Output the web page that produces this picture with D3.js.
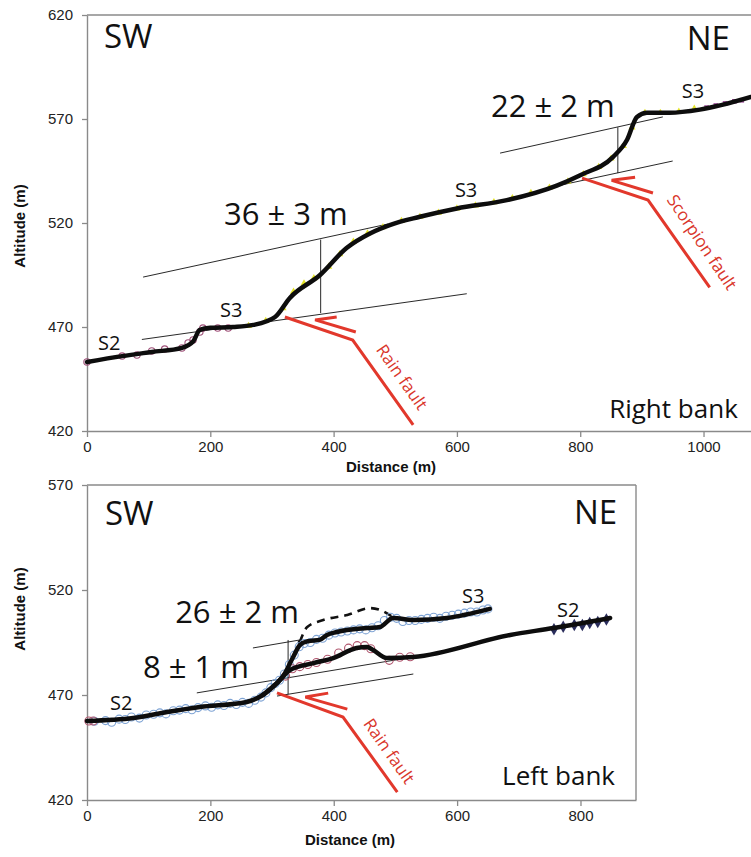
<!DOCTYPE html>
<html>
<head>
<meta charset="utf-8">
<script src="https://cdn.jsdelivr.net/npm/d3@7"></script>
<style>
  body { margin: 0; background: #fff; }
  .tick text { font-family: "Liberation Sans", Arial, sans-serif; font-size: 15px; fill: #222; }
  .axis-title { font-family: "Liberation Sans", Arial, sans-serif; font-size: 15px; font-weight: bold; fill: #111; }
  .big { font-family: "Open Sans", sans-serif; fill: #111; }
  .fault-label { font-family: "Open Sans", sans-serif; font-size: 17px; fill: #d9362b; }
</style>
</head>
<body>
<svg id="chart" width="751" height="857"></svg>
<script>
// ---------- Right bank (top panel) ----------
const rightXTicks = [0, 200, 400, 600, 800, 1000];
const rightYTicks = [420, 470, 520, 570, 620];

// smoothed profile
const rightProfileDist = [0, 57, 105, 154, 172, 183, 200, 237, 270, 305, 329, 378, 421, 459, 491, 540, 600, 681, 762, 800, 853, 876, 892, 908, 945, 994, 1077];
const rightProfileAlt  = [453.2, 456, 458, 460, 463, 468.6, 469.6, 470, 471, 474.8, 484, 495, 508, 515, 519, 523, 527, 531, 538, 543, 551.7, 560, 571, 573, 573, 574.5, 580.6];

// measured points
const rightCircleDist = [0, 57, 81, 105, 126, 154, 164, 172, 183, 188, 212, 229];
const rightCircleAlt  = [453.2, 456, 456.5, 458.5, 459.4, 459.9, 462.3, 463.8, 467.6, 469.5, 469.5, 469.5];
const rightYellowDist = [262, 290, 318, 335, 352, 368, 392, 410, 432, 455, 480, 510, 540, 570, 600, 630, 660, 690, 720, 750, 780, 805, 830, 850, 870, 884, 905, 930, 960, 985];
const rightYellowAlt  = [470.5, 473, 479, 487, 491, 493.5, 499, 505, 511, 515, 518, 521, 523, 525, 527, 528.5, 530, 532, 534.5, 537, 540, 543.5, 547, 551, 557, 566, 573, 573, 573.5, 575];
const rightSquareDist = [1005, 1020, 1035, 1050, 1062];
const rightSquareAlt  = [575.5, 576.5, 577.5, 578.5, 579];

// offset construction lines [dist, alt]
const rightGuides = [
  [[91, 494], [488, 519.5]],
  [[89, 464], [616, 486]],
  [[379, 476.7], [379, 512]],
  [[670, 553.6], [934, 571]],
  [[762, 537.8], [950, 549.8]],
  [[861, 544], [861, 566]]
];
const rightFaults = [
  [[321, 474.8], [431, 463.7], [529, 423]],
  [[405, 474.8], [370, 473.4], [436, 467.6]],
  [[803, 541.6], [910, 531], [1010, 489]],
  [[889, 542], [851, 540.5], [918, 534.4]]
];
const rightLabels = [
  {text: "SW", d: 27.6, a: 604.1, size: 33, anchor: "start"},
  {text: "NE", d: 1042.7, a: 603.2, size: 33, anchor: "end"},
  {text: "36 \u00b1 3 m", d: 322.7, a: 519, size: 31, anchor: "middle"},
  {text: "22 \u00b1 2 m", d: 755.6, a: 571, size: 31, anchor: "middle"},
  {text: "S2", d: 17.8, a: 458.9, size: 20, anchor: "start"},
  {text: "S3", d: 215.7, a: 474.8, size: 20, anchor: "start"},
  {text: "S3", d: 596.7, a: 532.5, size: 20, anchor: "start"},
  {text: "S3", d: 964.8, a: 580.1, size: 20, anchor: "start"},
  {text: "Right bank", d: 1055.6, a: 426.3, size: 26, anchor: "end"}
];
const rightFaultLabels = [
  {text: "Rain fault", d: 509, a: 445.5, angle: 55},
  {text: "Scorpion fault", d: 995.6, a: 510.4, angle: 56}
];

// ---------- Left bank (bottom panel) ----------
const leftXTicks = [0, 200, 400, 600, 800];
const leftYTicks = [420, 470, 520, 570];

const leftLowerDist = [0, 75, 130, 183, 259, 285, 308, 329, 367, 399, 437, 454, 464, 486, 529, 686, 756, 848];
const leftLowerAlt  = [457.6, 459, 461.9, 464.3, 466.7, 470, 475.7, 481.9, 485.2, 487.6, 492.4, 492.9, 491.4, 487.6, 488.1, 498.6, 501.9, 506.7];
const leftUpperDist = [285, 308, 318, 334, 345, 358, 378, 389, 405, 454, 475, 496, 529, 584, 653];
const leftUpperAlt  = [470, 475.7, 479, 488, 493.8, 495.6, 496.4, 498.6, 500, 501.9, 502.4, 506.7, 505.7, 506.7, 511];

const leftBlueDist = [12, 30, 40, 52, 62, 72, 85, 96, 108, 118, 128, 140, 150, 160, 170, 180, 192, 202, 212, 222, 232, 242, 252, 262, 272, 282, 290, 298, 305,
                      312, 320, 328, 336, 344, 352, 362, 372, 382, 392, 402, 412, 422, 432, 442, 452, 462, 472, 482, 492, 502, 512, 522, 532, 542, 552, 562, 572, 582, 592, 602, 612, 622, 632, 642, 650];
const leftBlueAlt  = [457.5, 457.8, 457, 458.5, 458.3, 459.5, 459, 460.5, 460.8, 461.5, 461, 462.5, 462.8, 463.5, 463, 464, 464.8, 464.2, 465.3, 465, 466, 465.5, 466.5, 466, 467.5, 469, 471, 473.5, 475.5,
                      477, 480, 484.5, 489, 493, 494.5, 495, 496.5, 497, 498.5, 499.5, 500, 500.5, 501, 501.5, 501, 502, 503, 505.5, 507, 506.5, 505, 505.5, 505.5, 506, 506.5, 507, 506.5, 507.5, 508, 508.5, 509, 509.5, 509.5, 510.5, 511];
const leftRedDist = [3, 10, 322, 333, 345, 358, 372, 390, 408, 424, 438, 450, 460, 490, 507, 524];
const leftRedAlt  = [457.6, 457.6, 479, 482.5, 483.5, 484.5, 485.5, 487, 490, 492.3, 493.5, 493.5, 492, 486.5, 488, 488.2];
const leftDiamondDist = [757, 772, 790, 803, 815, 828, 842];
const leftDiamondAlt  = [501.3, 502.5, 503.3, 503.3, 504.3, 504.8, 506];

const leftGuides = [
  [[269, 492.4], [345, 496.2]],
  [[178, 471], [529, 488.1]],
  [[308, 469.5], [529, 480]],
  [[326, 470.4], [326, 496.2]]
];
const leftDashed = [[345, 495.2], [357, 502.4], [383, 505.7], [422, 508.1], [459, 511.4], [475, 510.5], [496, 507.1]];
const leftFaults = [
  [[308, 471], [415, 459.5], [503, 423.8]],
  [[391, 470.9], [354, 469], [422, 463.3]]
];
const leftLabels = [
  {text: "SW", d: 29.2, a: 551, size: 33, anchor: "start"},
  {text: "NE", d: 859.3, a: 551.4, size: 33, anchor: "end"},
  {text: "26 \u00b1 2 m", d: 243.2, a: 504.3, size: 31, anchor: "middle"},
  {text: "8 \u00b1 1 m", d: 176.7, a: 478.1, size: 31, anchor: "middle"},
  {text: "S2", d: 37.3, a: 462.9, size: 20, anchor: "start"},
  {text: "S3", d: 608, a: 513.8, size: 20, anchor: "start"},
  {text: "S2", d: 762, a: 507.1, size: 20, anchor: "start"},
  {text: "Left bank", d: 856, a: 427.1, size: 26, anchor: "end"}
];
const leftFaultLabels = [
  {text: "Rain fault", d: 488, a: 442.9, angle: 55}
];

const svg = d3.select("#chart");
const zip = (xs, ys) => xs.map((x, i) => [x, ys[i]]);

function drawPanel(p) {
  const x = d3.scaleLinear().domain(p.xDomain).range(p.xRange);
  const y = d3.scaleLinear().domain(p.yDomain).range(p.yRange);
  const g = svg.append("g");
  const line = d3.line().x(d => x(d[0])).y(d => y(d[1]));
  const smooth = d3.line().x(d => x(d[0])).y(d => y(d[1])).curve(d3.curveMonotoneX);

  // frame
  g.append("line")
    .attr("x1", x(p.xDomain[0])).attr("x2", x(p.xDomain[1]))
    .attr("y1", y(p.yDomain[1])).attr("y2", y(p.yDomain[1]))
    .attr("stroke", "#8a8a8a").attr("stroke-width", 1.4);
  if (p.rightBorder) {
    g.append("line")
      .attr("x1", x(p.xDomain[1])).attr("x2", x(p.xDomain[1]))
      .attr("y1", y(p.yDomain[0])).attr("y2", y(p.yDomain[1]))
      .attr("stroke", "#8a8a8a").attr("stroke-width", 1.4);
  }

  const xAxis = g.append("g")
    .attr("transform", "translate(0," + y(p.yDomain[0]) + ")")
    .call(d3.axisBottom(x).tickValues(p.xTicks).tickFormat(d3.format("d"))
      .tickSize(6).tickPadding(4).tickSizeOuter(0));
  const yAxis = g.append("g")
    .attr("transform", "translate(" + x(p.xDomain[0]) + ",0)")
    .call(d3.axisLeft(y).tickValues(p.yTicks).tickFormat(d3.format("d"))
      .tickSize(5).tickPadding(9).tickSizeOuter(0));
  [xAxis, yAxis].forEach(a => {
    a.select(".domain").attr("stroke", "#8a8a8a").attr("stroke-width", 1.4);
    a.selectAll(".tick line").attr("stroke", "#8a8a8a").attr("stroke-width", 1.3);
  });

  g.append("text").attr("class", "axis-title")
    .attr("x", p.xTitle[0]).attr("y", p.xTitle[1])
    .attr("text-anchor", "middle").text("Distance (m)");
  g.append("text").attr("class", "axis-title")
    .attr("transform", "translate(" + p.yTitle[0] + "," + p.yTitle[1] + ") rotate(-90)")
    .attr("text-anchor", "middle").text("Altitude (m)");

  // thin construction lines
  p.guides.forEach(seg => {
    g.append("path").attr("d", line(seg))
      .attr("fill", "none").attr("stroke", "#111").attr("stroke-width", 0.9);
  });
  if (p.dashed) {
    g.append("path").attr("d", smooth(p.dashed))
      .attr("fill", "none").attr("stroke", "#111").attr("stroke-width", 2.6)
      .attr("stroke-dasharray", "8,6");
    g.append("circle").attr("cx", x(p.dashed[0][0])).attr("cy", y(p.dashed[0][1]))
      .attr("r", 2.2).attr("fill", "#111");
  }

  // fault traces
  p.faults.forEach(seg => {
    g.append("path").attr("d", line(seg))
      .attr("fill", "none").attr("stroke", "#e2382c").attr("stroke-width", 3)
      .attr("stroke-linejoin", "miter");
  });

  // point markers
  p.markers.forEach(m => {
    const pts = zip(m.dist, m.alt);
    if (m.shape === "circle") {
      g.selectAll(null).data(pts).join("circle")
        .attr("cx", d => x(d[0])).attr("cy", d => y(d[1])).attr("r", m.r)
        .attr("fill", "none").attr("stroke", m.color).attr("stroke-width", 1.1);
    } else {
      const sym = d3.symbol().type(m.shape).size(m.size);
      g.selectAll(null).data(pts).join("path")
        .attr("transform", d => "translate(" + x(d[0]) + "," + y(d[1]) + ")")
        .attr("d", sym).attr("fill", m.color);
    }
  });

  // profiles
  p.profiles.forEach(pr => {
    g.append("path").attr("d", smooth(zip(pr.dist, pr.alt)))
      .attr("fill", "none").attr("stroke", "#0d0d0d").attr("stroke-width", 4.5)
      .attr("stroke-linecap", "round").attr("stroke-linejoin", "round");
  });

  // text annotations
  p.labels.forEach(l => {
    g.append("text").attr("class", "big")
      .attr("x", x(l.d)).attr("y", y(l.a))
      .attr("font-size", l.size).attr("text-anchor", l.anchor).text(l.text);
  });
  p.faultLabels.forEach(l => {
    g.append("text").attr("class", "fault-label")
      .attr("transform", "translate(" + x(l.d) + "," + y(l.a) + ") rotate(" + l.angle + ")")
      .attr("text-anchor", "middle").attr("dominant-baseline", "middle").text(l.text);
  });
}

drawPanel({
  xDomain: [0, 1077], xRange: [87, 751],
  yDomain: [420, 620], yRange: [431, 15],
  xTicks: rightXTicks, yTicks: rightYTicks,
  rightBorder: false,
  xTitle: [391, 472], yTitle: [25, 226],
  guides: rightGuides, faults: rightFaults,
  markers: [
    {shape: d3.symbolTriangle, size: 22, color: "#e4e42a", dist: rightYellowDist, alt: rightYellowAlt},
    {shape: "circle", r: 3.2, color: "#a0527a", dist: rightCircleDist, alt: rightCircleAlt},
    {shape: d3.symbolSquare, size: 22, color: "#9b4f97", dist: rightSquareDist, alt: rightSquareAlt}
  ],
  profiles: [{dist: rightProfileDist, alt: rightProfileAlt}],
  labels: rightLabels, faultLabels: rightFaultLabels
});

drawPanel({
  xDomain: [0, 890], xRange: [87, 636],
  yDomain: [420, 570], yRange: [800, 485],
  xTicks: leftXTicks, yTicks: leftYTicks,
  rightBorder: true,
  xTitle: [350, 845], yTitle: [25, 609],
  guides: leftGuides, dashed: leftDashed, faults: leftFaults,
  markers: [
    {shape: "circle", r: 4, color: "#7ea3d4", dist: leftBlueDist, alt: leftBlueAlt},
    {shape: "circle", r: 4, color: "#b0566e", dist: leftRedDist, alt: leftRedAlt},
    {shape: d3.symbolDiamond, size: 45, color: "#2a2d5c", dist: leftDiamondDist, alt: leftDiamondAlt}
  ],
  profiles: [{dist: leftLowerDist, alt: leftLowerAlt}, {dist: leftUpperDist, alt: leftUpperAlt}],
  labels: leftLabels, faultLabels: leftFaultLabels
});
</script>
</body>
</html>
